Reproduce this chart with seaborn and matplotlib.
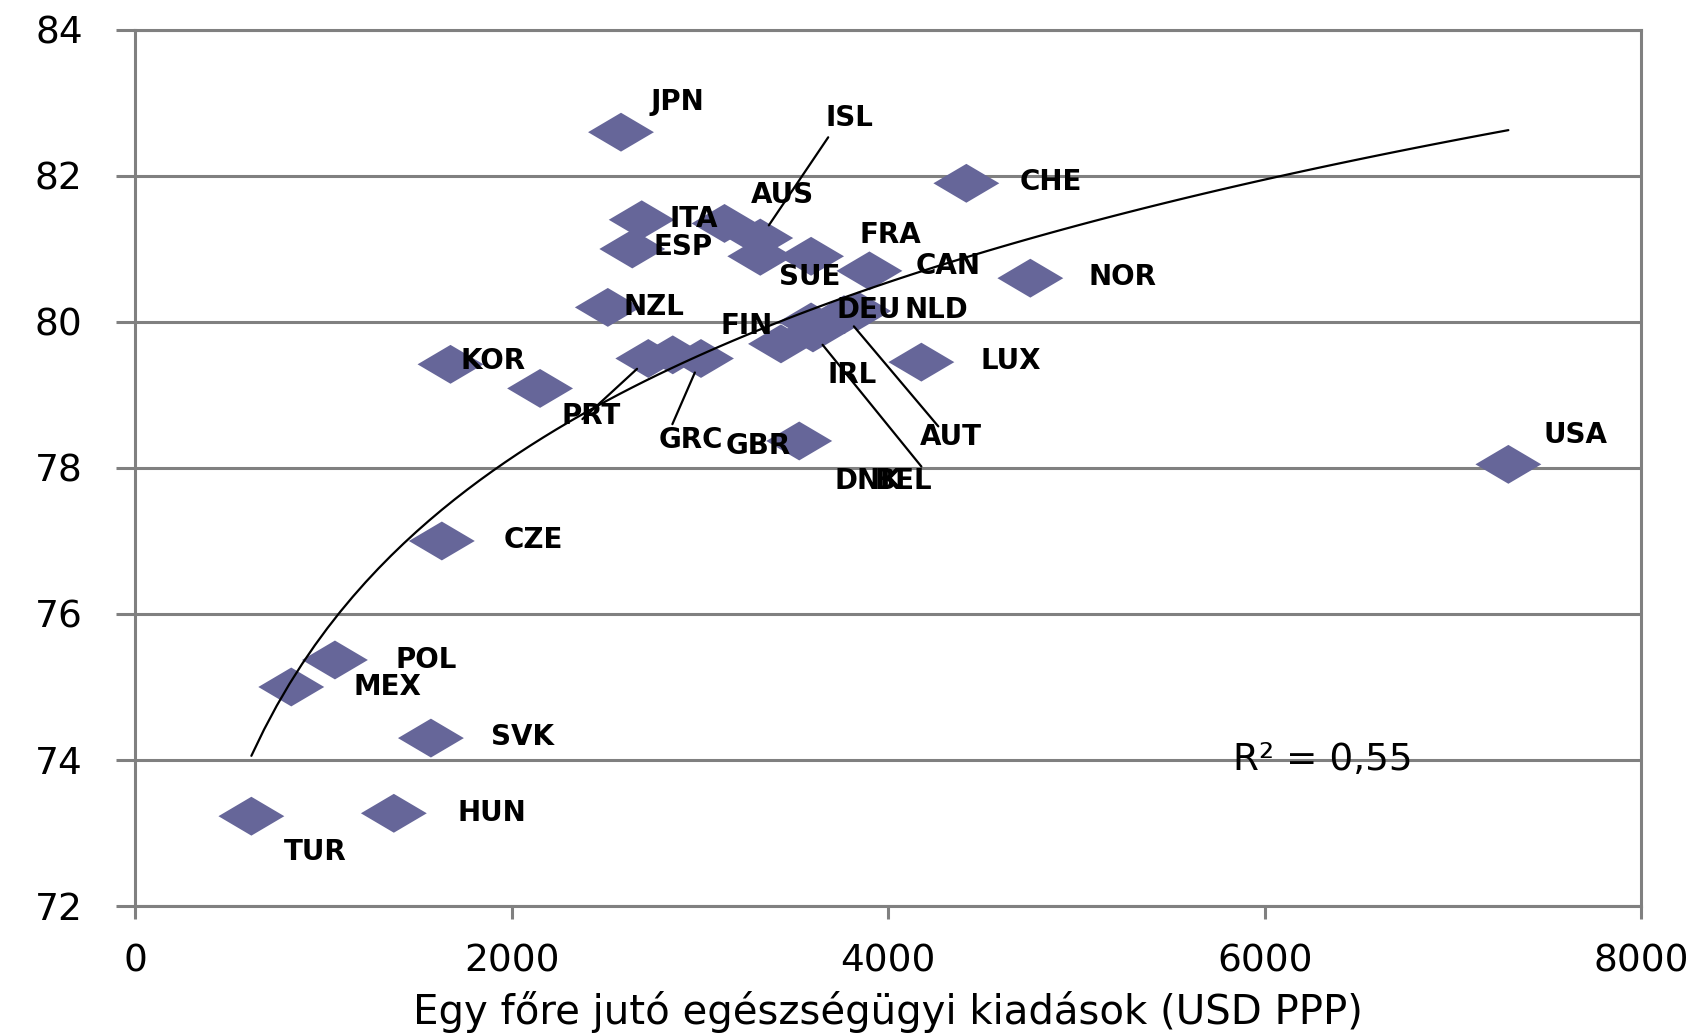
import numpy as np
import pandas as pd
import matplotlib
matplotlib.use("Agg")
import matplotlib.pyplot as plt
from matplotlib.path import Path
import seaborn as sns

# OECD countries: health spending per capita (USD PPP) vs life expectancy (years)
countries = ["JPN", "ISL", "AUS", "ITA", "ESP", "SUE", "FRA", "CAN", "CHE", "NOR",
             "NZL", "DEU", "NLD", "AUT", "BEL", "IRL", "FIN", "GRC", "GBR", "DNK",
             "LUX", "USA", "CZE", "POL", "MEX", "SVK", "HUN", "TUR", "KOR", "PRT"]
spending = [2580, 3320, 3130, 2690, 2640, 3320, 3590, 3900, 4415, 4755,
            2510, 3590, 3840, 3765, 3600, 3430, 2855, 2725, 3005, 3527,
            4176, 7295, 1628, 1060, 828, 1570, 1373, 616, 1674, 2150]
life_exp = [82.6, 81.15, 81.35, 81.4, 81.0, 80.9, 80.9, 80.7, 81.9, 80.6,
            80.2, 80.0, 80.15, 80.1, 79.85, 79.7, 79.55, 79.5, 79.5, 78.37,
            79.45, 78.05, 77.0, 75.37, 75.0, 74.3, 73.27, 73.23, 79.42, 79.09]

x_ticks = [0, 2000, 4000, 6000, 8000]
y_ticks = [72, 74, 76, 78, 80, 82, 84]
x_label = "Egy főre jutó egészségügyi kiadások (USD PPP)"
r2_text = "R² = 0,55"

df = pd.DataFrame({"country": countries, "spending": spending, "life_exp": life_exp})

# label placement (label centre, data coordinates)
label_pos = {
    "JPN": (2880, 83.02), "ISL": (3795, 82.79), "AUS": (3437, 81.74), "ITA": (2966, 81.41),
    "ESP": (2908, 81.03), "FRA": (4010, 81.19), "SUE": (3581, 80.62), "CAN": (4318, 80.77),
    "CHE": (4862, 81.92), "NOR": (5243, 80.61), "NZL": (2753, 80.20), "DEU": (3896, 80.17),
    "NLD": (4258, 80.17), "FIN": (3247, 79.94), "KOR": (1902, 79.46), "PRT": (2423, 78.71),
    "GRC": (2949, 78.39), "GBR": (3311, 78.30), "IRL": (3806, 79.28), "AUT": (4332, 78.43),
    "DNK": (3896, 77.82), "BEL": (4082, 77.82), "LUX": (4652, 79.46), "USA": (7652, 78.45),
    "CZE": (2116, 77.01), "POL": (1547, 75.37), "MEX": (1339, 75.00), "SVK": (2056, 74.31),
    "HUN": (1895, 73.28), "TUR": (956, 72.74),
}
# leader lines: (start of line near the label, target country)
leaders = [((3681, 82.53), "ISL"), ((4266, 78.57), "AUT"), ((4176, 78.02), "BEL"),
           ((2853, 78.60), "GBR"), ((2375, 78.67), "GRC")]

sns.set_theme(style="white")
plt.rcParams["font.family"] = ["DejaVu Sans"]
plt.rcParams["text.color"] = "black"
plt.rcParams["axes.labelcolor"] = "black"
plt.rcParams["xtick.labelcolor"] = "black"
plt.rcParams["ytick.labelcolor"] = "black"

fig = plt.figure(figsize=(17.08, 10.34), dpi=100)
ax = fig.add_axes([0.0793, 0.1238, 0.8815, 0.8472])

grey = "#808080"
marker_col = "#666699"

# flat diamond marker
diamond = Path([(-1, 0), (0, 0.59), (1, 0), (0, -0.59), (-1, 0)],
               [Path.MOVETO, Path.LINETO, Path.LINETO, Path.LINETO, Path.CLOSEPOLY])

sns.scatterplot(data=df, x="spending", y="life_exp", ax=ax, marker=diamond,
                s=2250, color=marker_col, edgecolor="none", linewidth=0, zorder=3)

# logarithmic trend line
sns.regplot(data=df, x="spending", y="life_exp", ax=ax, logx=True, ci=None,
            scatter=False, truncate=True,
            line_kws=dict(color="black", lw=1.6, zorder=4))

pts = df.set_index("country")
for c, (lx, ly) in label_pos.items():
    ax.text(lx, ly, c, ha="center", va="center", fontsize=20, fontweight="bold",
            color="black", zorder=5)

for (sx, sy), c in leaders:
    ax.annotate("", xy=(pts.loc[c, "spending"], pts.loc[c, "life_exp"]), xytext=(sx, sy),
                arrowprops=dict(arrowstyle="-", color="black", lw=1.6,
                                shrinkA=0, shrinkB=11), zorder=4)

ax.text(5832, 74.0, r2_text, ha="left", va="center", fontsize=27, color="black", zorder=5)

ax.set_xlim(0, 8000)
ax.set_ylim(72, 84)
ax.set_xticks(x_ticks)
ax.set_yticks(y_ticks)
ax.set_xticklabels([str(v) for v in x_ticks])
ax.set_yticklabels([str(v) for v in y_ticks])
ax.set_xlabel(x_label, fontsize=29, labelpad=8, color="black")
ax.set_ylabel("")

ax.yaxis.grid(True, color=grey, lw=2.2)
ax.xaxis.grid(False)
for sp in ax.spines.values():
    sp.set_color(grey)
    sp.set_linewidth(2.2)
    sp.set_visible(True)
ax.tick_params(axis="x", which="major", direction="out", length=9, width=2.2,
               color=grey, labelcolor="black", labelsize=27, pad=18, bottom=True)
ax.tick_params(axis="y", which="major", direction="out", length=14, width=2.2,
               color=grey, labelcolor="black", labelsize=27, pad=24, left=True)
ax.set_axisbelow(True)

fig.savefig("out.png", dpi=100, facecolor="white")
